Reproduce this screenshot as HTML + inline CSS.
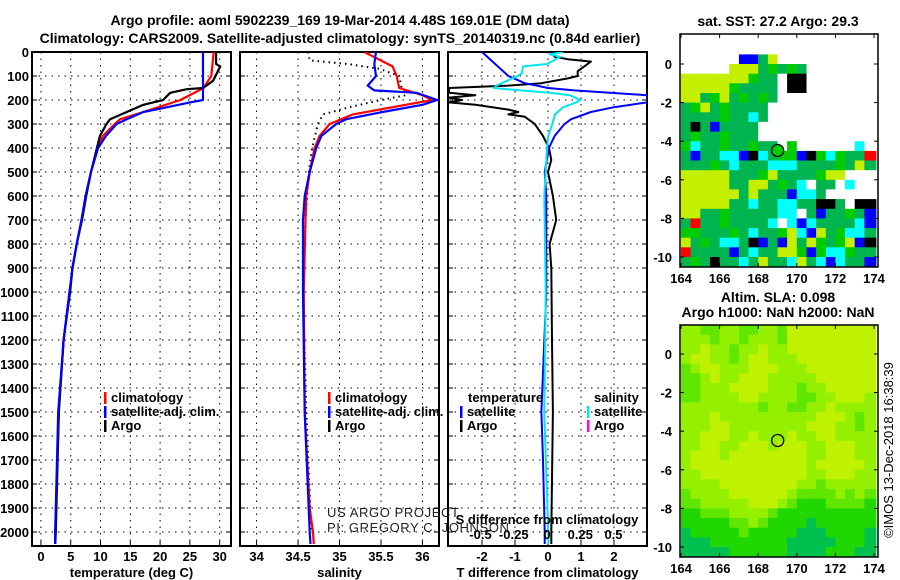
<!DOCTYPE html>
<html><head><meta charset="utf-8"><style>
html,body{margin:0;padding:0;background:#fff;}
svg{display:block;font-family:"Liberation Sans",Arial,sans-serif;}
.t{font-weight:bold;font-size:13px;fill:#000;}
.ti{font-weight:bold;font-size:14px;fill:#000;}
</style></head><body>
<svg id="chart" width="900" height="580" viewBox="0 0 900 580" xmlns="http://www.w3.org/2000/svg">
<text class="ti" x="340" y="25" text-anchor="middle">Argo profile: aoml 5902239_169 19-Mar-2014 4.48S 169.01E (DM data)</text>
<text class="ti" x="340" y="43" text-anchor="middle">Climatology: CARS2009. Satellite-adjusted climatology: synTS_20140319.nc (0.84d earlier)</text>
<text class="ti" x="778" y="26" text-anchor="middle">sat. SST: 27.2 Argo: 29.3</text>
<text class="ti" x="778" y="302" text-anchor="middle">Altim. SLA: 0.098</text>
<text class="ti" x="778" y="317" text-anchor="middle">Argo h1000: NaN h2000: NaN</text>
<text x="893" y="450" font-size="13" text-anchor="middle" transform="rotate(-90 893 450)">©IMOS 13-Dec-2018 16:38:39</text>
<g id="g"></g>
</svg>
<script>
// ---------- data ----------
const depthTicks=[0,100,200,300,400,500,600,700,800,900,1000,1100,1200,1300,1400,1500,1600,1700,1800,1900,2000];
const tTicks=[0,5,10,15,20,25,30];
const sTicks=[34,34.5,35,35.5,36];
const dTicks=[-2,-1,0,1,2];
const dsTicks=[-0.5,-0.25,0,0.25,0.5];
const dsTickLabels=['-0.5','-0.25','0','0.25','0.5'];

const argoTDepth=[0,50,60,120,150,155,170,200,220,250,280,300,350,400,500,600,700,800,900,1000,1200,1500,2000,2050];
const argoTVal=[29.4,29.4,30.1,28.9,27.2,24.5,21.7,20.5,17.2,14.4,11.6,11.0,9.9,9.4,8.4,7.6,6.9,6.0,5.3,4.9,3.8,3.0,2.5,2.4];
const climTDepth=[0,100,130,150,200,250,280,300,350,400,500,600,700,800,900,1000,1200,1500,2000,2050];
const climTVal=[29.0,28.6,27.8,27.3,23.4,17.2,13.3,12.4,10.4,9.5,8.4,7.5,6.8,6.0,5.3,4.8,3.8,3.0,2.4,2.4];
const satTDepth=[0,200,210,230,250,280,300,350,400,500,600,700,800,900,1000,1200,1500,2000,2050];
const satTVal=[27.2,27.2,25.0,21.2,17.2,14.4,12.7,10.9,9.6,8.4,7.5,6.8,6.0,5.3,4.8,3.8,2.9,2.4,2.4];

const argoSDepth=[0,35,50,70,100,150,180,200,230,260,300,400,500,700,1000,1500,2000];
const argoSVal=[34.62,34.64,35.1,35.48,35.72,35.75,35.8,35.5,35.12,34.8,34.74,34.67,34.63,34.59,34.56,34.6,34.66];
const climSDepth=[0,60,100,150,180,200,230,260,300,350,400,500,600,700,1000,1500,1900,2000,2050];
const climSVal=[35.30,35.64,35.69,35.72,36.0,36.12,35.64,35.16,34.88,34.76,34.70,34.64,34.60,34.59,34.57,34.58,34.64,34.68,34.69];
const satSDepth=[0,50,100,140,160,170,200,220,250,280,300,350,400,500,600,700,1000,1500,2000,2050];
const satSVal=[35.44,35.42,35.44,35.34,35.42,35.93,36.18,36.0,35.52,35.08,34.96,34.78,34.72,34.64,34.58,34.56,34.56,34.58,34.64,34.65];

const dArgoTDepth=[0,20,30,40,60,80,100,110,130,140,150,170,180,190,200,210,220,240,250,260,270,300,350,400,450,500,600,700,800,900,1200,1500,2000,2050];
const dArgoTVal=[0.09,0.2,0.6,1.3,1.1,0.9,0.9,0.6,-0.2,-1.2,-3.0,-3.0,-2.2,-3.0,-2.6,-3.0,-2.2,-1.2,-0.9,-1.2,-0.7,-0.4,-0.15,0.03,0.1,0,0.15,0.25,0.05,0.1,0.12,0.15,0.1,0.1];
const dSatTDepth=[0,50,100,130,150,160,180,200,210,230,250,280,300,350,400,500,600,800,1000,1500,1700,2000,2050];
const dSatTVal=[-2.0,-1.6,-1.2,-0.7,0,0.8,3.0,3.0,3.0,2.0,1.3,0.7,0.5,0.2,0.03,-0.1,-0.05,-0.05,-0.05,-0.2,-0.15,-0.1,-0.1];
const dSatSDepth=[0,10,20,50,60,90,100,120,140,150,160,170,180,200,210,230,260,300,350,400,600,1000,1500,2000,2050];
const dSatSVal=[0.12,0.02,0.1,0,-0.18,-0.19,-0.22,-0.3,-0.38,-0.4,-0.2,0.02,0.17,0.25,0.22,0.12,0.06,0.04,0.01,0,-0.02,-0.01,-0.02,0.01,0.01];

// map grids (rows north->south, cols west->east, 0.5 deg cells)
const sstRows=[
"WWWWWWWWWWWWWWWWWWWW","WWWWWWWWWWWWWWWWWWWW","WWWWWWBBDYWWWWWWWWWW","WWWWWYYYDGDGDWWWWWWW",
"YYYYYYYGDDWKKWWWWWWW","YYYYYGDDDDWKKWWWWWWW","YYDGYDGDGDWWWWWWWWWW","DGYDGDDDDWWWWWWWWWWW",
"DDDDGDDCDWWWWWWWWWWW","DKDBDDDDWWWWWWWWWWWW","DGDDGDDDWWWWWWWWWWWW","GCDDGDDGDDWGWWWWWWCW",
"DBDDCCBKCDGGBKGCGDDR","DDDGDCDDDCCCDDDDGDYD","YYYYYDDDGYDDDDGYYWWW","YYYYYDDYYDGDCWDDWCWW",
"YYYYYYDYDDDBCCDWWWWW","YYYYYDDCDDCCDDKKDWKK","YYDDGDDDDDCCWDBDDGDB","DRDDGDDDDCWCBCDDDDCB",
"GGDDDGDCDDGYCBYDGCCD","YDGDCCDKBDBYDYGDGYBK","RDDDDBDCDDYYGBGCCGDD","DGDKDDCDYDDCYDCBCDDB"];
const slaRows=[
"LLMMLLMMLLMYYYYYYYYY","LLLMLLMLLLMYYYYYYYYY","LLYLLMLLYLLYYYYYYYYY","LYYLLMLYYLLLYYYYYYYY",
"MLYYLLLYYYLLLYYYYYYY","MMLYLLYYYLLLLLYYYYYY","MMLLLYYYYLLLMLLYYYYY","MMLLLLYYLLLLMMLLYYYL",
"LLLLLLLLMLLMMLLYLLLL","LLLYLLLLLLLLLLYYYLML","LLLYYLLLLLLLLYYYLLML","LLYYYLLYLLLYLLYYLLLL",
"LLYYLLYYYLYYYLLYYYLL","LYYYLYYYYYYYYLLYYYLL","LYYYYYYYYYYYYLYYYYYL","LLYYYYYYYYYYYLLYYYLL",
"LLLLYYYYYYYYLLMLLLLL","MLLLLYYYYYYLMMMMLMLM","MMLLLLLYYYLMGGGMMMMG","GGMMMLLLLMGGGGGGGGGG",
"GGGGGMMLMGGGGDGGGGGG","DGGGGGMGGGGGDDDGGGGD","DDDGGGGGGGGDDDDDGGGD","DDDDDGGGGGGDDDDGGGDD"];
const mapLatTicks=[0,-2,-4,-6,-8,-10];
const mapLonTicks=[164,166,168,170,172,174];
const argoLon=169.01, argoLat=-4.48;

// ---------- drawing ----------
const NS='http://www.w3.org/2000/svg';
const G=document.getElementById('g');
function el(tag,attrs,parent){const e=document.createElementNS(NS,tag);for(const k in attrs)e.setAttribute(k,attrs[k]);(parent||G).appendChild(e);return e;}
const Y0=52,PY=0.24,PB=546;
const yD=d=>Y0+d*PY;
const panels=[
 {x0:32,x1:231,vmin:-1.5,vmax:31.9,ticks:tTicks,labels:tTicks.map(String),title:'temperature (deg C)',name:'temperature'},
 {x0:240,x1:439,vmin:33.8,vmax:36.2,ticks:sTicks,labels:['34','34.5','35','35.5','36'],title:'salinity',name:'salinity'},
 {x0:448,x1:647,vmin:-3.03,vmax:3.0,ticks:dTicks,labels:dTicks.map(String),title:'T difference from climatology',name:'difference'}];
panels.forEach((p,i)=>{
 p.sx=v=>p.x0+(v-p.vmin)/(p.vmax-p.vmin)*(p.x1-p.x0);
 const cp=el('clipPath',{id:'cp'+i});el('rect',{x:p.x0,y:Y0,width:p.x1-p.x0,height:PB-Y0},cp);
 depthTicks.forEach(d=>{const y=yD(d);
  const gl=el('line',{x1:p.x0,x2:p.x1,y1:y,y2:y,stroke:'#000','stroke-width':1,'stroke-dasharray':'1.5 5'});
  
  el('line',{x1:p.x0,x2:p.x0+5,y1:y,y2:y,stroke:'#000','stroke-width':1});
  el('line',{x1:p.x1-5,x2:p.x1,y1:y,y2:y,stroke:'#000','stroke-width':1});
 });
 p.ticks.forEach((v,k)=>{const x=p.sx(v);
  const gl=el('line',{x1:x,x2:x,y1:Y0,y2:PB,stroke:'#000','stroke-width':1,'stroke-dasharray':'1.5 5'});
  
  el('line',{x1:x,x2:x,y1:PB-5,y2:PB,stroke:'#000'});
  const t=el('text',{class:'t',x:x,y:561,'text-anchor':'middle'});t.textContent=p.labels[k];
  
 });
 const tt=el('text',{class:'t',x:(p.x0+p.x1)/2,y:577,'text-anchor':'middle'});tt.textContent=p.title;
 
 const fr=el('rect',{x:p.x0,y:Y0,width:p.x1-p.x0,height:PB-Y0,fill:'none',stroke:'#000','stroke-width':2});
 
});
depthTicks.forEach(d=>{const t=el('text',{class:'t',x:29,y:yD(d)+5,'text-anchor':'end'});t.textContent=d;
 });
function series(pi,depths,vals,color,w,name,dash,sxf){
 const p=panels[pi];const f=sxf||p.sx;
 const pts=depths.map((d,k)=>f(vals[k]).toFixed(1)+','+yD(d).toFixed(1)).join(' ');
 const a={points:pts,fill:'none',stroke:color,'stroke-width':w,'clip-path':'url(#cp'+pi+')','stroke-linejoin':'round'};
 if(dash)a['stroke-dasharray']=dash;
 const l=el('polyline',a);
 
 
}
series(0,climTDepth,climTVal,'#f00',2.2,'temp-climatology-line');
series(0,argoTDepth,argoTVal,'#000',2.2,'temp-argo-line');
series(0,satTDepth,satTVal,'#0000ff',2.2,'temp-satellite-line');
series(1,argoSDepth,argoSVal,'#000',2,'salinity-argo-line','1.5 4');
series(1,climSDepth,climSVal,'#f00',2.2,'salinity-climatology-line');
series(1,satSDepth,satSVal,'#0000ff',2.2,'salinity-satellite-line');
const sdx=v=>547+133*v;
series(2,dArgoTDepth,dArgoTVal,'#000',2,'tdiff-argo-line');
series(2,dSatTDepth,dSatTVal,'#0000ff',2,'tdiff-satellite-line');
series(2,dSatSDepth,dSatSVal,'#00e5ee',2,'sdiff-satellite-line',null,sdx);
// S diff axis labels
const st=el('text',{class:'t',x:547,y:524,'text-anchor':'middle'});st.textContent='S difference from climatology';

dsTicks.forEach((v,k)=>{const t=el('text',{class:'t',x:sdx(v),y:539,'text-anchor':'middle'});t.textContent=dsTickLabels[k];
 });
// legends
function legend(x,y,color,label,name){
 el('rect',{x:x,y:y-10,width:2.5,height:12,fill:color});
 const t=el('text',{class:'t',x:x+7,y:y});t.textContent=label;
 
}
legend(104,402,'#f00','climatology','legend-climatology');
legend(104,416,'#0000ff','satellite-adj. clim.','legend-satellite-adj');
legend(104,430,'#000','Argo','legend-argo');
legend(328,402,'#f00','climatology','legend-sal-climatology');
legend(328,416,'#0000ff','satellite-adj. clim.','legend-sal-satellite-adj');
legend(328,430,'#000','Argo','legend-sal-argo');
let tl=el('text',{class:'t',x:468,y:402});tl.textContent='temperature';
tl=el('text',{class:'t',x:594,y:402});tl.textContent='salinity';
legend(460,416,'#0000ff','satellite','legend-tdiff-satellite');
legend(460,430,'#000','Argo','legend-tdiff-argo');
legend(587,416,'#00e5ee','satellite','legend-sdiff-satellite');
legend(587,430,'#ff00ff','Argo','legend-sdiff-argo');
let pt=el('text',{x:327,y:517,'font-size':'13','letter-spacing':'0.6',fill:'#222'});pt.textContent='US ARGO PROJECT';
pt=el('text',{x:327,y:532,'font-size':'13','letter-spacing':'0.6',fill:'#222'});pt.textContent='PI: GREGORY C. JOHNSON';

// maps
const pal1={W:'#fff',Y:'#c4f000',G:'#00cc00',D:'#00b450',C:'#00ffff',B:'#0000ff',K:'#000',R:'#ff0000'};
const pal2={Y:'#bff200',L:'#94f000',M:'#60e600',G:'#20d800',D:'#00c050'};
function drawMap(rows,pal,x0,x1,top,bottom,lat0y,name,fillCircle){
 const px=(x1-x0)/10.25; // per degree approx
 const lonX=l=>681+(l-164)*19.3;
 const latY=l=>lat0y-l*19.3;
 const cp=el('clipPath',{id:'cp'+name});el('rect',{x:x0,y:top,width:x1-x0,height:bottom-top},cp);
 const g=el('g',{'clip-path':'url(#cp'+name+')'});
 
 rows.forEach((r,ri)=>{const lat=1.5-0.5*ri;
  for(let ci=0;ci<r.length;ci++){const lon=164+0.5*ci;const c=pal[r[ci]];
   const x=lonX(lon),y=latY(lat);
   const cell=el('rect',{x:x.toFixed(1),y:y.toFixed(1),width:(ci==r.length-1?12:10.2),height:(ri==rows.length-1?12:10.2),fill:c},g);
   
  }});
 const c=el('circle',{cx:lonX(argoLon),cy:latY(argoLat),r:6,fill:fillCircle?'#00cc00':'none',stroke:'#000','stroke-width':1.3});
 
 const fr=el('rect',{x:x0,y:top,width:x1-x0,height:bottom-top,fill:'none',stroke:'#000','stroke-width':1.5});
 
 mapLatTicks.forEach(l=>{const y=latY(l);
  el('line',{x1:x0,x2:x0+4,y1:y,y2:y,stroke:'#000'});el('line',{x1:x1-4,x2:x1,y1:y,y2:y,stroke:'#000'});
  const t=el('text',{class:'t',x:x0-8,y:y+5,'text-anchor':'end'});t.textContent=l;
  });
 mapLonTicks.forEach(l=>{const x=lonX(l);
  el('line',{x1:x,x2:x,y1:bottom-4,y2:bottom,stroke:'#000'});el('line',{x1:x,x2:x,y1:top,y2:top+4,stroke:'#000'});
  const t=el('text',{class:'t',x:x,y:bottom+16,'text-anchor':'middle'});t.textContent=l;
  });
}
drawMap(sstRows,pal1,680,878,34,267,64,'sst-map',true);
drawMap(slaRows,pal2,680,878,325,557,354,'sla-map',false);
</script>
</body></html>
